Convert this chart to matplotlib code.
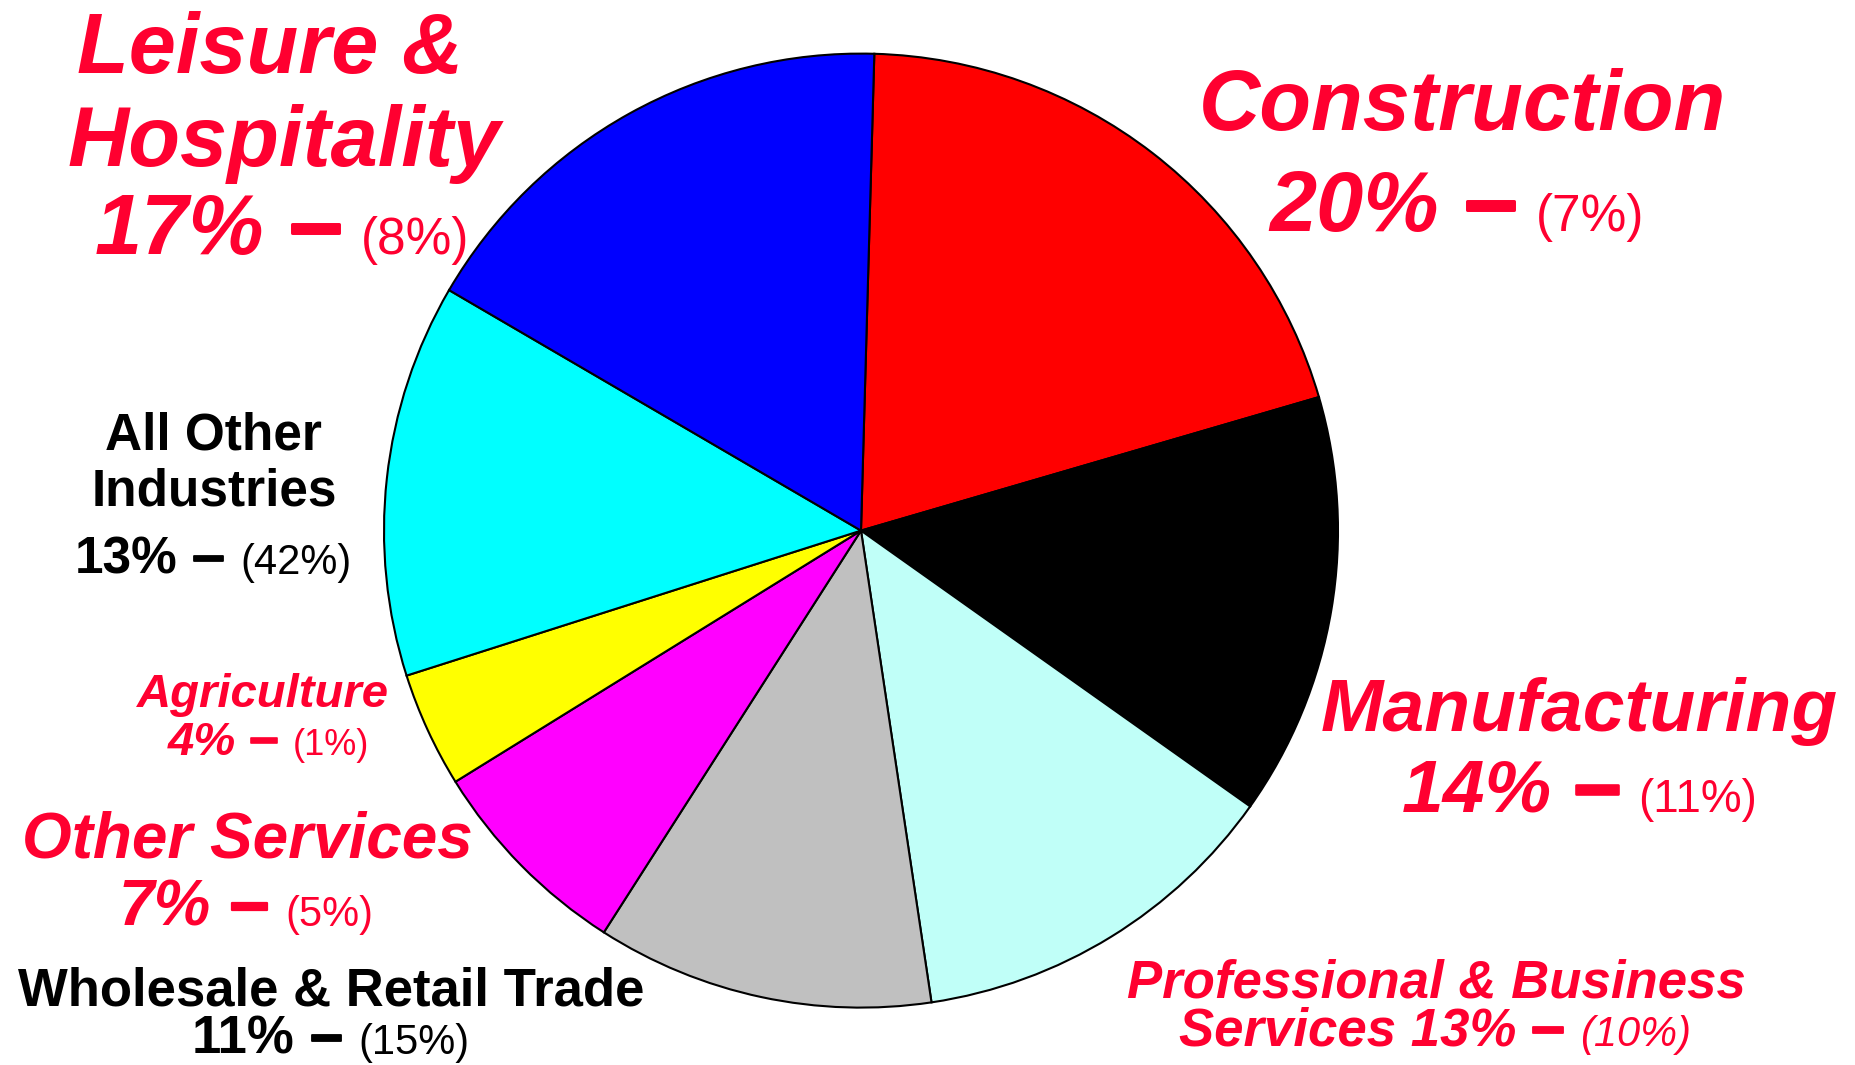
"""Pie chart: share of sector employment, with comparison share in parentheses."""

import matplotlib
matplotlib.use("Agg")
import matplotlib.pyplot as plt
import matplotlib.patheffects as pe


# ---------------------------------------------------------------------------
# Data
# ---------------------------------------------------------------------------

sectors = [
    "Construction",
    "Manufacturing",
    "Professional & Business Services",
    "Wholesale & Retail Trade",
    "Other Services",
    "Agriculture",
    "All Other Industries",
    "Leisure & Hospitality",
]
shares = [20, 14, 13, 11, 7, 4, 13, 17]               # printed big number
slice_sizes = [20.0, 14.3, 12.8, 11.4, 7.1, 3.9, 13.3, 17.0]  # as drawn
compare_shares = [7, 11, 10, 15, 5, 1, 42, 8]         # number in parentheses
slice_colors = ["#FF0000", "#000000", "#C0FFF8", "#C0C0C0",
                "#FF00FF", "#FFFF00", "#00FFFF", "#0000FF"]


# ---------------------------------------------------------------------------
# Layout (pixels, y measured from the top of the image)
# ---------------------------------------------------------------------------

W, H = 1855, 1065
RED = "#FF0030"
FONT = "Liberation Sans"

label_layout = {
    "Construction": dict(
        head=["Construction"], lead="", xs=[1462, 1457], ys=[130, 231],
        size=61, psize=37, color=RED, italic=True, pitalic=False),
    "Manufacturing": dict(
        head=["Manufacturing"], lead="", xs=[1579, 1579], ys=[731, 812],
        size=54, psize=33, color=RED, italic=True, pitalic=False),
    "Professional & Business Services": dict(
        head=["Professional & Business"], lead="Services ", xs=[1436, 1435],
        ys=[997, 1046], size=38, psize=30, color=RED, italic=True, pitalic=True),
    "Wholesale & Retail Trade": dict(
        head=["Wholesale & Retail Trade"], lead="", xs=[331, 331], ys=[1005, 1054],
        size=38, psize=30, color="black", italic=False, pitalic=False),
    "Other Services": dict(
        head=["Other Services"], lead="", xs=[247, 246], ys=[857, 926],
        size=46, psize=30, color=RED, italic=True, pitalic=False),
    "Agriculture": dict(
        head=["Agriculture"], lead="", xs=[263, 268], ys=[707, 755],
        size=34, psize=26, color=RED, italic=True, pitalic=False),
    "All Other Industries": dict(
        head=["All Other", "Industries"], lead="", xs=[213, 214, 213],
        ys=[450, 506, 574], size=37, psize=30, color="black",
        italic=False, pitalic=False),
    "Leisure & Hospitality": dict(
        head=["Leisure &", "Hospitality"], lead="", xs=[270, 284, 282],
        ys=[73, 166, 254], size=61, psize=37, color=RED, italic=True,
        pitalic=False),
}

PIE_CENTER = (861, 530.6)
PIE_RADIUS = 477
START_ANGLE = 88.4
DASH_SCALE = 1.12     # the dash is a bit longer and heavier than an en dash


def draw_line(ax, renderer, cx, y, parts, gaps):
    """Draw text pieces side by side on one baseline, centred on cx."""
    texts = [ax.text(0, H - y, s, ha="left", va="baseline", **kw)
             for s, kw in parts]
    widths = [t.get_window_extent(renderer).width for t in texts]
    total = sum(widths) + sum(gaps)
    x = cx - total / 2
    for i, (t, w) in enumerate(zip(texts, widths)):
        t.set_x(x)
        x += w + (gaps[i] if i < len(gaps) else 0)


def main() -> None:
    fig = plt.figure(figsize=(W / 100, H / 100), dpi=100)
    ax = fig.add_axes([0, 0, 1, 1])

    ax.pie(slice_sizes, colors=slice_colors, startangle=START_ANGLE,
           counterclock=False, center=(PIE_CENTER[0], H - PIE_CENTER[1]),
           radius=PIE_RADIUS,
           wedgeprops=dict(edgecolor="black", linewidth=1.5))
    ax.set_xlim(0, W)
    ax.set_ylim(0, H)
    ax.set_aspect("equal")
    ax.axis("off")

    renderer = fig.canvas.get_renderer()

    for name, share, comp in zip(sectors, shares, compare_shares):
        lay = label_layout[name]
        main_kw = dict(family=FONT, weight="bold", fontsize=lay["size"],
                       color=lay["color"],
                       style="italic" if lay["italic"] else "normal")
        dash_kw = dict(family=FONT, weight="bold",
                       fontsize=lay["size"] * DASH_SCALE, color=lay["color"],
                       path_effects=[pe.withStroke(
                           linewidth=lay["size"] * 0.035,
                           foreground=lay["color"])])
        paren_kw = dict(family=FONT, weight="normal", fontsize=lay["psize"],
                        color=lay["color"],
                        style="italic" if lay["pitalic"] else "normal")

        for line, x, y in zip(lay["head"], lay["xs"], lay["ys"]):
            draw_line(ax, renderer, x, y, [(line, main_kw)], [])

        em = lay["size"] * 100 / 72
        pem = lay["psize"] * 100 / 72
        draw_line(ax, renderer, lay["xs"][-1], lay["ys"][-1],
                  [(f"{lay['lead']}{share}%", main_kw),
                   ("\u2013", dash_kw),
                   (f"({comp}%)", paren_kw)],
                  [0.29 * em, 0.38 * pem])

    fig.savefig("out.png", dpi=100)
    plt.close(fig)


if __name__ == "__main__":
    main()
